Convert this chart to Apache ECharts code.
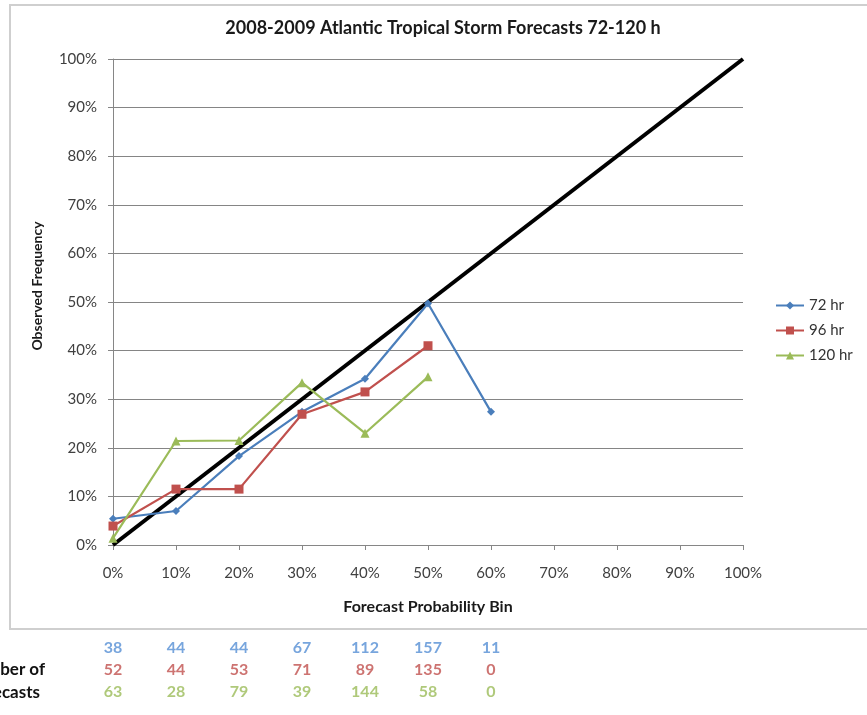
<!DOCTYPE html>
<html>
<head>
<meta charset="utf-8">
<script src="https://cdn.jsdelivr.net/npm/echarts@6/dist/echarts.min.js"></script>
<style>
  html, body { margin: 0; padding: 0; background: #fff; }
  #chart { width: 867px; height: 715px; }
</style>
</head>
<body>
<div id="chart"></div>
<script>
// Forecast probability bins (fraction) and observed frequencies per lead time
const bins = [0, 0.1, 0.2, 0.3, 0.4, 0.5, 0.6];
const obs72 = [0.054, 0.070, 0.183, 0.274, 0.342, 0.497, 0.274];
const obs96 = [0.039, 0.115, 0.115, 0.269, 0.315, 0.410];
const obs120 = [0.014, 0.214, 0.215, 0.334, 0.230, 0.346];

// Number of forecasts in each bin
const count72 = [38, 44, 44, 67, 112, 157, 11];
const count96 = [52, 44, 53, 71, 89, 135, 0];
const count120 = [63, 28, 79, 39, 144, 58, 0];

const seriesNames = ['72 hr', '96 hr', '120 hr'];
const colors = ['#4a7ebb', '#c0504d', '#9bbb59'];
const countColors = ['#558ed5', '#c0504d', '#9bbb59'];
const perfect = [[0, 0], [1, 1]];

const FONT = 'Lato, "Open Sans", sans-serif';

function pairs(ys) { return ys.map((v, i) => [bins[i], v]); }

const countRows = [count72, count96, count120];
const countData = [];
countRows.forEach((row, r) => {
  row.forEach((c, i) => countData.push({
    value: [bins[i], r, c],
    label: { color: countColors[r] }
  }));
});

const chart = echarts.init(document.getElementById('chart'), null, { renderer: 'canvas' });

chart.setOption({
  backgroundColor: '#ffffff',
  animation: false,
  title: {
    text: '2008-2009 Atlantic Tropical Storm Forecasts 72-120 h',
    left: 438, top: 14, textAlign: 'center',
    textStyle: { fontFamily: FONT, fontSize: 18, fontWeight: 'bold', color: '#1a1a1a' }
  },
  legend: {
    data: seriesNames,
    orient: 'vertical',
    left: 770, top: 293,
    itemGap: 10, itemWidth: 28, itemHeight: 10,
    textStyle: { fontFamily: FONT, fontSize: 15, color: '#333' }
  },
  graphic: [
    { type: 'rect', shape: { x: 10, y: 5, width: 880, height: 624 },
      style: { fill: 'none', stroke: '#cfcfcf', lineWidth: 2 }, silent: true, z: -1 },
    { type: 'text', x: 37, y: 286, rotation: Math.PI / 2,
      style: { text: 'Observed Frequency', textAlign: 'center', textVerticalAlign: 'middle',
        font: 'bold 14px ' + FONT, fill: '#1a1a1a' } },
    { type: 'text', x: 45, y: 670, style: { text: 'Number of', textAlign: 'right', textVerticalAlign: 'middle',
      font: 'bold 17px ' + FONT, fill: '#111' } },
    { type: 'text', x: 40, y: 693, style: { text: 'Forecasts', textAlign: 'right', textVerticalAlign: 'middle',
      font: 'bold 17px ' + FONT, fill: '#111' } }
  ],
  grid: [
    { left: 113, right: 124, top: 59, bottom: 170, containLabel: false },
    { left: 113, right: 124, top: 637, height: 66, containLabel: false }
  ],
  xAxis: [
    {
      gridIndex: 0, type: 'value', min: 0, max: 1, interval: 0.1,
      name: 'Forecast Probability Bin', nameLocation: 'middle', nameGap: 54,
      nameTextStyle: { fontFamily: FONT, fontSize: 16, fontWeight: 'bold', color: '#1a1a1a' },
      axisLine: { show: true, lineStyle: { color: '#868686', width: 1 } },
      axisTick: { show: true, inside: false, length: 5, lineStyle: { color: '#868686' } },
      axisLabel: { fontFamily: FONT, fontSize: 15, color: '#404040', margin: 21,
        formatter: v => Math.round(v * 100) + '%' },
      splitLine: { show: false }
    },
    { gridIndex: 1, type: 'value', min: 0, max: 1, show: false }
  ],
  yAxis: [
    {
      gridIndex: 0, type: 'value', min: 0, max: 1, interval: 0.1,
      axisLine: { show: true, lineStyle: { color: '#868686', width: 1 } },
      axisTick: { show: true, inside: false, length: 5, lineStyle: { color: '#868686' } },
      axisLabel: { fontFamily: FONT, fontSize: 15, color: '#404040', margin: 16,
        formatter: v => Math.round(v * 100) + '%' },
      splitLine: { show: true, lineStyle: { color: '#858585', width: 1.2 } }
    },
    { gridIndex: 1, type: 'category', data: seriesNames, inverse: true, show: false }
  ],
  series: [
    {
      name: 'perfect', type: 'line', data: perfect, symbol: 'none',
      lineStyle: { color: '#000', width: 4 }, z: 1, silent: true
    },
    {
      name: seriesNames[0], type: 'line', data: pairs(obs72),
      symbol: 'diamond', symbolSize: 8, color: colors[0],
      lineStyle: { width: 2.2 }, z: 3
    },
    {
      name: seriesNames[1], type: 'line', data: pairs(obs96),
      symbol: 'rect', symbolSize: 9, color: colors[1],
      lineStyle: { width: 2.2 }, z: 3
    },
    {
      name: seriesNames[2], type: 'line', data: pairs(obs120),
      symbol: 'triangle', symbolSize: 9, color: colors[2],
      lineStyle: { width: 2.2 }, z: 3
    },
    {
      name: 'counts', type: 'scatter', xAxisIndex: 1, yAxisIndex: 1,
      data: countData, symbolSize: 1, itemStyle: { color: 'rgba(0,0,0,0)' }, silent: true,
      label: {
        show: true, position: 'inside',
        formatter: p => String(p.value[2]),
        fontFamily: FONT, fontSize: 16, fontWeight: 'bold'
      }
    }
  ]
});
</script>
</body>
</html>
